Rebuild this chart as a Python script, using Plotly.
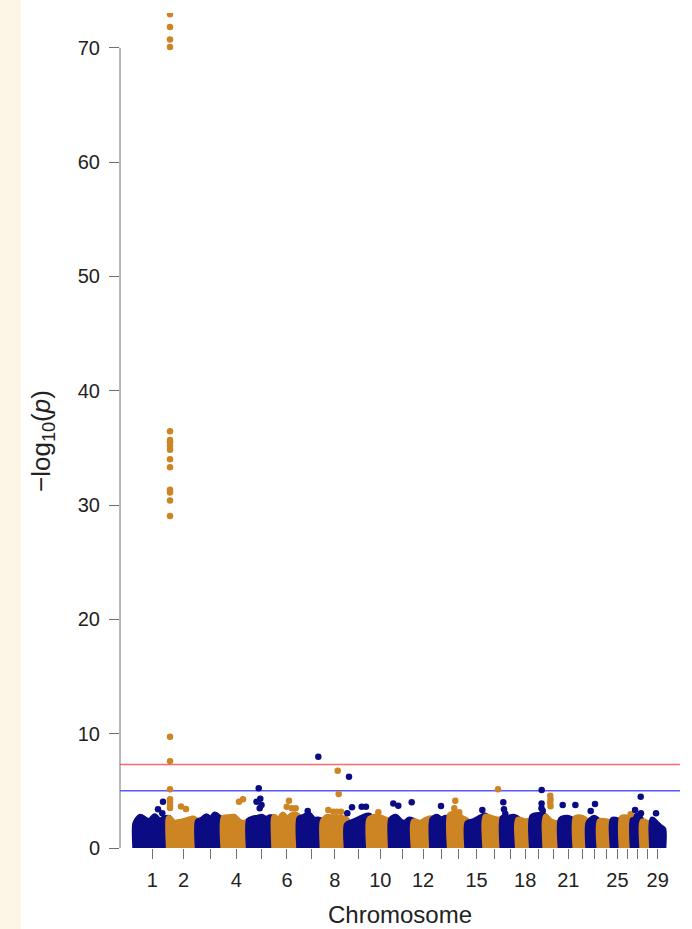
import numpy as np
import plotly.graph_objects as go

# ---------------- data ----------------
chrom_names = [str(i) for i in range(1, 30)]
chrom_length_mb = [158.5, 136.2, 121.0, 120.0, 120.1, 117.8, 110.7, 113.3, 105.5, 103.3,
                   107.0, 87.2, 83.5, 82.4, 85.0, 81.0, 73.2, 65.8, 63.4, 72.0,
                   69.9, 60.8, 52.5, 62.3, 42.4, 52.0, 45.6, 45.9, 51.1]
labelled_chroms = ["1", "2", "4", "6", "8", "10", "12", "15", "18", "21", "25", "29"]

# upper edge (-log10 p) of the dense bulk of SNPs, read at evenly spaced points along each chromosome
bulk_top = [
    [2.4, 3.0, 2.75, 2.6, 3.05, 2.6, 2.85, 2.9],    # 1
    [2.9, 2.45, 2.55, 2.6, 2.75, 2.85, 2.5],        # 2
    [2.6, 2.75, 3.05, 2.75, 3.2, 2.9, 2.75],        # 3
    [2.9, 2.95, 3.0, 2.6, 2.45, 2.6],               # 4
    [2.7, 2.85, 2.9, 3.0, 2.8, 2.95, 2.9],          # 5
    [3.0, 2.6, 3.2, 2.75, 3.1, 3.2, 2.9],           # 6
    [2.85, 3.0, 3.2, 2.75, 2.75, 2.6],              # 7
    [2.6, 3.0, 2.9, 2.9, 2.9, 2.7],                 # 8
    [2.3, 2.55, 2.75, 3.0, 3.1],                    # 9
    [2.75, 3.0, 2.95, 2.75, 2.6],                   # 10
    [2.75, 3.0, 2.6, 2.45, 2.75, 2.6],              # 11
    [2.6, 2.45, 2.75, 2.85],                        # 12
    [2.75, 3.0, 2.75, 2.9, 2.75],                   # 13
    [3.15, 3.3, 2.9, 2.6],                          # 14
    [2.45, 2.6, 2.9, 3.1],                          # 15
    [3.0, 2.9, 2.75, 2.75],                         # 16
    [2.9, 2.9, 3.0, 2.75],                          # 17
    [2.75, 2.6, 2.6],                               # 18
    [3.0, 3.15, 3.0],                               # 19
    [3.0, 2.6, 2.45, 2.45],                         # 20
    [2.75, 2.9, 2.45],                              # 21
    [2.9, 2.9, 2.45],                               # 22
    [2.45, 2.9, 2.45],                              # 23
    [2.6, 2.6, 2.45],                               # 24
    [2.75, 2.45],                                   # 25
    [2.9, 2.9, 2.45],                               # 26
    [2.75, 3.1, 2.45],                              # 27
    [2.6, 2.45, 2.45],                              # 28
    [2.75, 2.45, 2.15, 1.9],                        # 29
]

# individual SNPs standing out above the bulk
peak_chrom = ([1, 1, 1]
              + [2] * 22 + [2, 2]
              + [4, 4]
              + [5, 5, 5, 5, 5]
              + [6, 6, 6, 6]
              + [7, 7]
              + [8, 8, 8, 8, 8, 8]
              + [9, 9, 9, 9, 9]
              + [10]
              + [11, 11, 11]
              + [13]
              + [14, 14, 14]
              + [15]
              + [16]
              + [17, 17, 17]
              + [19, 19, 19, 19]
              + [20, 20, 20, 20]
              + [21, 21]
              + [23, 23]
              + [26]
              + [27, 27, 27]
              + [29])
peak_pos_mb = ([106.2, 126.4, 129.7]
               + [4.3] * 22 + [56.2, 79.8]
               + [72.6, 91.5]
               + [45.6, 53.1, 35.2, 58.8, 50.3]
               + [68.4, 57.6, 81.2, 100.0]
               + [88.9, 38.9]
               + [69.7, 74.4, 25.4, 49.0, 64.9, 85.3]
               + [9.7, 23.9, 69.6, 89.9, 1.7]
               + [42.5]
               + [9.9, 33.5, 96.7]
               + [40.8]
               + [24.7, 20.0, 43.2]
               + [69.8]
               + [58.8]
               + [2.8, 6.0, 12.0]
               + [45.0, 44.5, 44.0, 50.0]
               + [22.0, 23.0, 22.0, 23.0]
               + [8.7, 68.5]
               + [10.0, 30.4]
               + [41.5]
               + [36.8, 10.2, 38.0]
               + [17.6])
peak_logp = ([3.38, 3.05, 4.05]
             + [72.95, 71.82, 70.74, 70.07, 36.45, 35.7, 35.5, 35.2, 34.85, 34.0, 33.3,
                31.35, 31.1, 30.4, 29.05, 9.73, 7.6, 5.13, 4.26, 4.05, 3.75, 3.5]
             + [3.64, 3.41]
             + [4.05, 4.26]
             + [5.22, 4.3, 4.05, 3.76, 3.47]
             + [4.13, 3.6, 3.47, 3.47]
             + [7.98, 3.23]
             + [6.76, 4.72, 3.32, 3.18, 3.18, 3.18]
             + [6.23, 3.56, 3.61, 3.61, 3.03]
             + [3.12]
             + [3.9, 3.7, 4.0]
             + [3.67]
             + [4.13, 3.47, 3.12]
             + [3.32]
             + [5.13]
             + [4.0, 3.4, 3.0]
             + [5.07, 3.9, 3.47, 3.25]
             + [4.57, 4.25, 3.95, 3.65]
             + [3.76, 3.76]
             + [3.23, 3.85]
             + [2.95]
             + [4.49, 3.32, 3.03]
             + [3.03])

genome_wide_line = 7.3   # -log10(5e-8)
suggestive_line = 5.0    # -log10(1e-5)

# ---------------- styling ----------------
NAVY = "#0B0B84"
ORANGE = "#CD8524"
AXIS_GREY = "#707070"
TEXT = "#222222"
FONT = "Liberation Sans, Arial, Helvetica, sans-serif"
DOT = 6.5

W, H = 692, 929
ML, MR, MT, MB = 120, 12, 13, 81
PW, PH = W - ML - MR, H - MT - MB
YMAX = 73.05

lengths = np.array(chrom_length_mb)
offsets = np.concatenate([[0.0], np.cumsum(lengths)[:-1]])
centers = offsets + lengths / 2
colours = [NAVY if i % 2 == 0 else ORANGE for i in range(len(chrom_names))]

fig = go.Figure()

# dense bulk of SNPs per chromosome
half_dot = (DOT / 2) / (PH / YMAX)
for i, tops in enumerate(bulk_top):
    xs = offsets[i] + np.linspace(0, lengths[i], len(tops))
    ys = np.array(tops) - half_dot
    px = np.concatenate([[offsets[i], offsets[i]], xs, [offsets[i] + lengths[i]] * 2, [offsets[i]]])
    py = np.concatenate([[-0.3, 0.0], ys, [0.0, -0.3], [-0.3]])
    fig.add_trace(go.Scatter(x=px, y=py, mode="lines", fill="toself",
                             fillcolor=colours[i],
                             line=dict(color=colours[i], width=DOT, shape="spline", smoothing=0.7),
                             hoverinfo="skip", showlegend=False))

# outstanding SNPs
pc = np.array(peak_chrom) - 1
px = offsets[pc] + np.array(peak_pos_mb)
pcol = [colours[c] for c in pc]
fig.add_trace(go.Scatter(x=px, y=peak_logp, mode="markers",
                         marker=dict(size=DOT, color=pcol, line=dict(width=0)),
                         showlegend=False))

x_per_px = 1 / 0.21195
x0 = -15.5 * x_per_px
xrange = [x0, x0 + PW * x_per_px]

ticktext = [n if n in labelled_chroms else "" for n in chrom_names]

fig.update_layout(
    width=W, height=H, autosize=False,
    margin=dict(l=ML, r=MR, t=MT, b=MB, pad=0),
    paper_bgcolor="white", plot_bgcolor="white",
    font=dict(family=FONT, color=TEXT, size=20),
    xaxis=dict(range=xrange, tickmode="array", tickvals=centers, ticktext=ticktext,
               ticks="outside", ticklen=10, tickwidth=1, tickcolor=AXIS_GREY,
               showline=False, showgrid=False, zeroline=False, automargin=False,
               tickfont=dict(size=20, color=TEXT), ticklabelstandoff=4,
               title=dict(text="Chromosome", font=dict(size=24, color=TEXT), standoff=16)),
    yaxis=dict(range=[0, YMAX], tickmode="array", tickvals=list(range(0, 71, 10)),
               ticks="outside", ticklen=10, tickwidth=1, tickcolor=AXIS_GREY,
               showline=False, showgrid=False, zeroline=False, automargin=False,
               tickfont=dict(size=20, color=TEXT), ticklabelstandoff=5),
    annotations=[
        dict(text="\u2212log<sub>10</sub>(<i>p</i>)", textangle=-90,
             xref="paper", yref="paper", x=(42 - ML) / PW, y=(848 - 441) / PH,
             xanchor="center", yanchor="middle", showarrow=False,
             font=dict(size=26, color=TEXT, family=FONT)),
    ],
    shapes=[
        dict(type="rect", xref="paper", yref="paper",
             x0=-ML / PW, x1=(21 - ML) / PW, y0=-MB / PH, y1=1 + MT / PH,
             fillcolor="#FDF5E6", line=dict(width=0), layer="below"),
        dict(type="line", xref="paper", yref="y", x0=0, x1=0, y0=0, y1=70,
             line=dict(color=AXIS_GREY, width=1)),
        dict(type="line", xref="paper", yref="y", x0=0, x1=1,
             y0=genome_wide_line, y1=genome_wide_line,
             line=dict(color="rgba(255,90,90,0.9)", width=1.5), layer="below"),
        dict(type="line", xref="paper", yref="y", x0=0, x1=1,
             y0=suggestive_line, y1=suggestive_line,
             line=dict(color="rgba(70,70,255,0.9)", width=1.5), layer="below"),
    ],
)

fig.write_html("out.html", config={"displayModeBar": False},
               post_script="document.body.style.margin='0';document.body.style.overflow='hidden';")
